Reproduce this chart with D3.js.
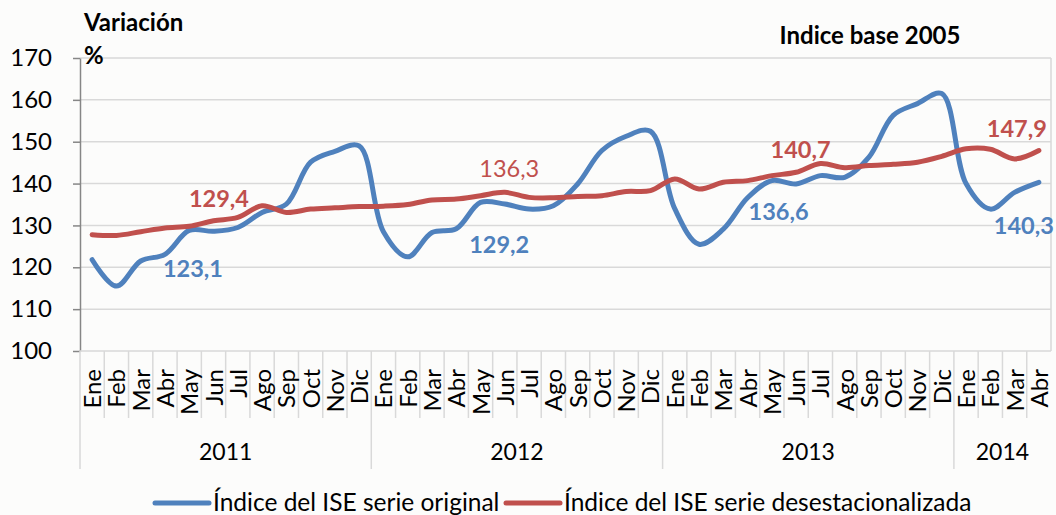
<!DOCTYPE html>
<html><head><meta charset="utf-8">
<script src="https://cdn.jsdelivr.net/npm/d3@7"></script>
<style>body{margin:0;background:#fcfcfb}svg{display:block}</style>
</head><body><svg id="c" width="1056" height="515"></svg>
<script>
// ---- data ----
const years = ["2011", "2012", "2013", "2014"];
const monthsInYear = [12, 12, 12, 4];
const monthNames = ["Ene","Feb","Mar","Abr","May","Jun","Jul","Ago","Sep","Oct","Nov","Dic"];
const original = [
  121.8,115.5,121.5,123.1,128.8,128.6,129.5,133.1,135.1,145.1,147.7,149.0,
  128.5,122.5,128.3,129.2,135.5,135.1,133.9,134.7,139.9,147.9,151.3,152.5,
  134.0,125.5,129.1,136.6,140.7,139.9,141.9,141.5,146.3,156.3,159.1,161.5,
  140.0,133.9,137.9,140.3];
const desestacionalizada = [
  127.8,127.6,128.5,129.4,129.8,131.1,131.9,134.7,133.1,133.9,134.2,134.5,
  134.6,135.0,136.1,136.3,137.1,137.9,136.7,136.6,136.9,137.1,138.1,138.3,
  141.1,138.7,140.3,140.7,141.9,142.7,144.8,143.8,144.3,144.6,145.1,146.5,
  148.3,148.2,145.9,147.9];
const yTicks = [100,110,120,130,140,150,160,170];
const seriesNames = ["Índice del ISE serie original", "Índice del ISE serie desestacionalizada"];
// annotated points: [series index, point index]
const annotated = [[0,3],[1,3],[0,15],[1,15],[0,27],[1,27],[0,39],[1,39]];

// ---- layout ----
const W = 1056, H = 515;
const L = 80, R = 1051, T = 58, B = 351;
const colors = ["#4f81bd", "#c0504d"];
const font = "Lato, 'Open Sans', sans-serif";
const svg = d3.select("#c");
svg.append("rect").attr("width", W).attr("height", H).attr("fill", "#fcfcfb");

const cats = [];
years.forEach((yr, yi) => {
  for (let m = 0; m < monthsInYear[yi]; m++) cats.push({key: yr + "-" + m, year: yr, month: monthNames[m]});
});
const x = d3.scaleBand().domain(cats.map(c => c.key)).range([L, R]).padding(0);
const bw = x.bandwidth();
const y = d3.scaleLinear().domain([100, 170]).range([B, T]);
const cx = i => x(cats[i].key) + bw / 2;

// gridlines
svg.append("g").selectAll("line").data(yTicks.filter(t => t > 100)).join("line")
  .attr("x1", L).attr("x2", R).attr("y1", d => y(d)).attr("y2", d => y(d))
  .attr("stroke", "#d9d9d9").attr("stroke-width", 1.5);
// right border
svg.append("line").attr("x1", R).attr("x2", R).attr("y1", T).attr("y2", B)
  .attr("stroke", "#d9d9d9").attr("stroke-width", 1.5);

// y axis
const yAxis = svg.append("g").attr("transform", `translate(${L},0)`)
  .call(d3.axisLeft(y).tickValues(yTicks).tickSize(7).tickPadding(21).tickSizeOuter(0));
yAxis.select(".domain").attr("stroke", "#868686").attr("stroke-width", 1.5);
yAxis.selectAll(".tick line").attr("stroke", "#868686").attr("stroke-width", 1.5);
yAxis.selectAll(".tick text").attr("font-family", font).attr("font-size", 24).attr("fill", "#000");

// category axis (two levels)
const ax = svg.append("g");
ax.append("line").attr("x1", L).attr("x2", R).attr("y1", B).attr("y2", B)
  .attr("stroke", "#d9d9d9").attr("stroke-width", 1.5);
// month separators
const monthBounds = d3.range(1, cats.length).filter(i => cats[i].year === cats[i-1].year);
ax.selectAll(".ms").data(monthBounds).join("line")
  .attr("x1", i => x(cats[i].key)).attr("x2", i => x(cats[i].key))
  .attr("y1", B).attr("y2", 418).attr("stroke", "#d9d9d9").attr("stroke-width", 1.5);
// year separators
const yearBounds = [0].concat(d3.range(1, cats.length).filter(i => cats[i].year !== cats[i-1].year));
ax.selectAll(".ys").data(yearBounds).join("line")
  .attr("x1", i => x(cats[i].key)).attr("x2", i => x(cats[i].key))
  .attr("y1", B).attr("y2", 469).attr("stroke", "#d9d9d9").attr("stroke-width", 1.5);
// month labels
ax.selectAll(".ml").data(cats).join("text")
  .attr("transform", (d, i) => `translate(${cx(i) + 9},369) rotate(-90)`)
  .attr("text-anchor", "end").attr("font-family", font).attr("font-size", 24)
  .text(d => d.month);
// year labels
years.forEach((yr, yi) => {
  const idx = cats.map((c, i) => c.year === yr ? i : -1).filter(i => i >= 0);
  const x0 = x(cats[idx[0]].key), x1 = x(cats[idx[idx.length-1]].key) + bw;
  ax.append("text").attr("x", (x0 + x1) / 2).attr("y", 460).attr("text-anchor", "middle")
    .attr("font-family", font).attr("font-size", 23).text(yr);
});

// lines
const series = [original, desestacionalizada];
const line = d3.line().x((d, i) => cx(i)).y(d => y(d)).curve(d3.curveCatmullRom.alpha(0.5));
series.forEach((s, si) => {
  svg.append("path").datum(s).attr("d", line).attr("fill", "none")
    .attr("stroke", colors[si]).attr("stroke-width", 5).attr("stroke-linejoin", "round").attr("stroke-linecap", "round");
});

// annotations
const labelOffsets = [[28,14],[54,-30],[43,15],[53,-31],[31,13],[53,-32],[-15,43],[-22,-23]];
const regularLabel = [false,false,false,true,false,false,false,false];
annotated.forEach(([si, pi], k) => {
  const v = series[si][pi];
  svg.append("text").attr("x", cx(pi) + labelOffsets[k][0]).attr("y", y(v) + labelOffsets[k][1])
    .attr("text-anchor", "middle").attr("dominant-baseline", "central")
    .attr("font-family", font).attr("font-size", 23.5).attr("font-weight", regularLabel[k] ? 400 : 700)
    .attr("fill", colors[si]).text(d3.format(".1f")(v).replace(".", ","));
});

// titles
svg.append("text").attr("x", 84).attr("y", 31).attr("font-family", font).attr("font-size", 24)
  .attr("font-weight", 700).text("Variación");
svg.append("text").attr("x", 84).attr("y", 64).attr("font-family", font).attr("font-size", 24)
  .attr("font-weight", 700).text("%");
svg.append("text").attr("x", 870).attr("y", 44).attr("text-anchor", "middle").attr("font-family", font)
  .attr("font-size", 24).attr("font-weight", 700).text("Indice base 2005");

// legend
const legX = [155, 506];
seriesNames.forEach((n, i) => {
  const g = svg.append("g").attr("transform", `translate(${legX[i]},503)`);
  g.append("line").attr("x1", 0).attr("x2", 54).attr("stroke", colors[i]).attr("stroke-width", 5).attr("stroke-linecap", "round");
  g.append("text").attr("x", 58).attr("y", 8).attr("font-family", font).attr("font-size", 24.5).text(n);
});
</script></body></html>
